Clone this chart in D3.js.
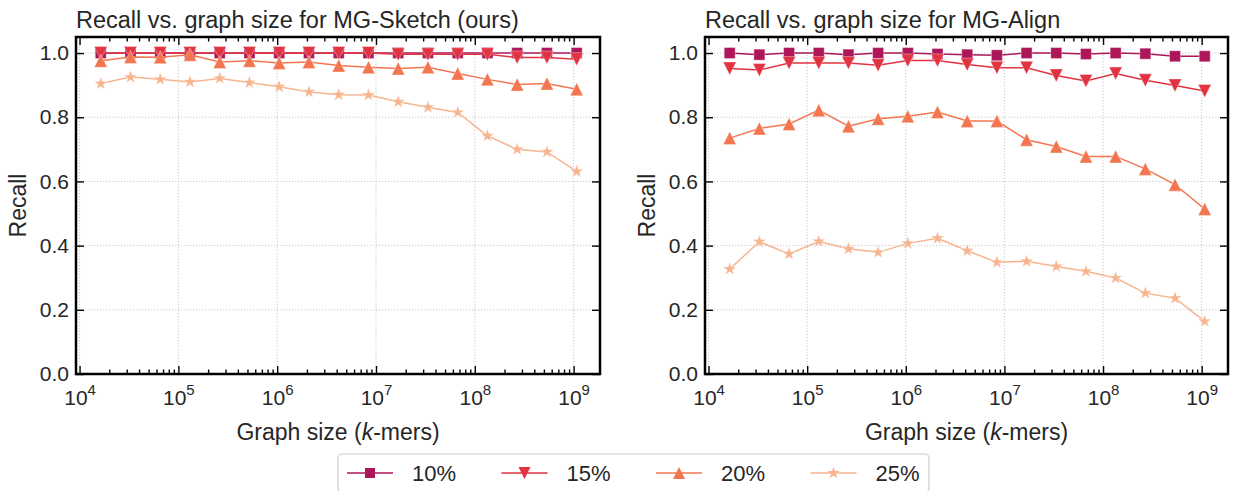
<!DOCTYPE html>
<html>
<head>
<meta charset="utf-8">
<script src="https://cdn.jsdelivr.net/npm/d3@7"></script>
<style>
  body { margin: 0; background: #fff; }
  svg { display: block; font-family: "Liberation Sans", Arial, sans-serif; }
  .grid line { stroke: #c8c8c8; stroke-width: 1; stroke-dasharray: 1.2,1.8; }
  .tick line { stroke: #000; stroke-width: 1.4; }
  .tick text { fill: #262626; }
</style>
</head>
<body>
<svg id="chart" width="1233" height="491"></svg>
<script>
// graph sizes (k-mers), one per measured point
var sizes = [16384, 32768, 65536, 131072, 262144, 524288, 1048576, 2097152, 4194304,
             8388608, 16777216, 33554432, 67108864, 134217728, 268435456, 536870912, 1073741824];

var labels = ["10%", "15%", "20%", "25%"];
var colors = ["#ad1759", "#e13342", "#f37651", "#f6b48f"];
var shapes = ["square", "tridown", "triup", "star"];

// MG-Sketch recall
var sketch10 = [1, 1, 1, 1, 1, 1, 1, 1, 1, 1, 1, 1, 1, 1, 1, 1, 1];
var sketch15 = [1, 1, 1, 1, 1, 1, 1, 1, 1, 1, 0.996, 0.996, 0.996, 0.996, 0.986, 0.986, 0.981];
var sketch20 = [0.976, 0.988, 0.987, 0.995, 0.972, 0.976, 0.969, 0.972, 0.961, 0.956, 0.952, 0.956, 0.936, 0.918, 0.902, 0.905, 0.887];
var sketch25 = [0.905, 0.925, 0.918, 0.910, 0.921, 0.908, 0.895, 0.879, 0.870, 0.869, 0.848, 0.831, 0.815, 0.742, 0.700, 0.692, 0.631];

// MG-Align recall
var align10 = [1.0, 0.995, 1.0, 1.0, 0.995, 1.0, 1.0, 0.997, 0.995, 0.993, 1.0, 1.0, 0.997, 1.0, 0.998, 0.99, 0.99];
var align15 = [0.952, 0.947, 0.969, 0.969, 0.969, 0.962, 0.977, 0.977, 0.964, 0.954, 0.954, 0.930, 0.913, 0.936, 0.915, 0.899, 0.882];
var align20 = [0.735, 0.765, 0.779, 0.822, 0.772, 0.795, 0.803, 0.816, 0.788, 0.788, 0.730, 0.709, 0.678, 0.678, 0.639, 0.590, 0.514];
var align25 = [0.327, 0.412, 0.374, 0.413, 0.390, 0.379, 0.407, 0.423, 0.384, 0.348, 0.351, 0.335, 0.320, 0.299, 0.252, 0.236, 0.164];

var xMajor = [1e4, 1e5, 1e6, 1e7, 1e8, 1e9];
var yMajor = [0, 0.2, 0.4, 0.6, 0.8, 1.0];

var panels = [
  {title: "Recall vs. graph size for MG-Sketch (ours)", left: 76, right: 600, series: [sketch10, sketch15, sketch20, sketch25]},
  {title: "Recall vs. graph size for MG-Align", left: 705, right: 1228, series: [align10, align15, align20, align25]}
];

var plotTop = 37, plotBottom = 374;
var svg = d3.select("#chart");

// matplotlib-like marker paths, r = half size
function markerPath(shape, r) {
  if (shape === "square") return "M" + (-r) + "," + (-r) + "h" + (2 * r) + "v" + (2 * r) + "h" + (-2 * r) + "Z";
  if (shape === "triup") return "M0," + (-r) + "L" + (-r) + "," + r + "L" + r + "," + r + "Z";
  if (shape === "tridown") return "M0," + r + "L" + (-r) + "," + (-r) + "L" + r + "," + (-r) + "Z";
  var p = [];
  for (var k = 0; k < 10; k++) {
    var rad = k % 2 === 0 ? r : r * 0.381966;
    var a = -Math.PI / 2 + k * Math.PI / 5;
    p.push([rad * Math.cos(a), rad * Math.sin(a)]);
  }
  return "M" + p.map(function (q) { return q[0].toFixed(2) + "," + q[1].toFixed(2) }).join("L") + "Z";
}
var markerR = {square: 5.5, tridown: 6.5, triup: 6.5, star: 7};

// minor ticks 2..9 per decade inside the domain
var xDomain = [Math.pow(10, 3.964), Math.pow(10, 9.267)];
var xMinor = [];
[1e3, 1e4, 1e5, 1e6, 1e7, 1e8, 1e9].forEach(function (d) {
  [2, 3, 4, 5, 6, 7, 8, 9].forEach(function (m) {
    var v = d * m;
    if (v > xDomain[0] && v < xDomain[1]) xMinor.push(v);
  })
})

panels.forEach(function (p) {
  var x = d3.scaleLog().domain(xDomain).range([p.left, p.right]);
  var y = d3.scaleLinear().domain([0, 1.05]).range([plotBottom, plotTop]);
  var w = p.right - p.left, h = plotBottom - plotTop;
  var g = svg.append("g");

  // grid
  var grid = g.append("g").attr("class", "grid");
  grid.selectAll(".gx").data(xMajor).enter().append("line")
    .attr("x1", function (d) { return x(d) }).attr("x2", function (d) { return x(d) })
    .attr("y1", plotTop).attr("y2", plotBottom);
  grid.selectAll(".gy").data(yMajor).enter().append("line")
    .attr("x1", p.left).attr("x2", p.right)
    .attr("y1", function (d) { return y(d) }).attr("y2", function (d) { return y(d) });

  // x axis bottom (labels 10^n)
  var xb = g.append("g").attr("transform", "translate(0," + plotBottom + ")")
    .call(d3.axisBottom(x).tickValues(xMajor).tickSizeInner(-8).tickSizeOuter(0).tickFormat(""));
  xb.select(".domain").remove();
  xb.selectAll(".tick").append("text")
    .attr("text-anchor", "middle").attr("y", 31).style("font-size", "21px")
    .each(function (d) {
      var t = d3.select(this);
      t.append("tspan").text("10");
      t.append("tspan").attr("dy", -10).style("font-size", "15px").text(Math.round(Math.log10(d)));
    });
  var xbm = g.append("g").attr("transform", "translate(0," + plotBottom + ")")
    .call(d3.axisBottom(x).tickValues(xMinor).tickSizeInner(-4.5).tickSizeOuter(0).tickFormat(""));
  xbm.select(".domain").remove();

  // x axis top, ticks only
  var xt = g.append("g").attr("transform", "translate(0," + plotTop + ")")
    .call(d3.axisTop(x).tickValues(xMajor).tickSizeInner(-8).tickSizeOuter(0).tickFormat(""));
  xt.select(".domain").remove();
  var xtm = g.append("g").attr("transform", "translate(0," + plotTop + ")")
    .call(d3.axisTop(x).tickValues(xMinor).tickSizeInner(-4.5).tickSizeOuter(0).tickFormat(""));
  xtm.select(".domain").remove();

  // y axes
  var yl = g.append("g").attr("transform", "translate(" + p.left + ",0)")
    .call(d3.axisLeft(y).tickValues(yMajor).tickSizeInner(-8).tickSizeOuter(0).tickPadding(7).tickFormat(d3.format(".1f")));
  yl.select(".domain").remove();
  yl.selectAll("text").style("font-size", "21px").attr("fill", "#262626");
  var yr = g.append("g").attr("transform", "translate(" + p.right + ",0)")
    .call(d3.axisRight(y).tickValues(yMajor).tickSizeInner(-8).tickSizeOuter(0).tickFormat(""));
  yr.select(".domain").remove();

  // series
  p.series.forEach(function (vals, i) {
    var pts = vals.map(function (v, j) { return [sizes[j], v] });
    g.append("path").datum(pts)
      .attr("fill", "none").attr("stroke", colors[i]).attr("stroke-width", 1.5)
      .attr("d", d3.line().x(function (d) { return x(d[0]) }).y(function (d) { return y(d[1]) }));
    g.selectAll(".m" + i).data(pts).enter().append("path")
      .attr("transform", function (d) { return "translate(" + x(d[0]) + "," + y(d[1]) + ")" })
      .attr("d", markerPath(shapes[i], markerR[shapes[i]]))
      .attr("fill", colors[i]).attr("stroke", "#fff").attr("stroke-opacity", 0.45).attr("stroke-width", 0.8);
  })

  // frame
  g.append("rect").attr("x", p.left).attr("y", plotTop).attr("width", w).attr("height", h)
    .attr("fill", "none").attr("stroke", "#000").attr("stroke-width", 2.5);

  // titles and labels
  g.append("text").attr("x", p.left).attr("y", 28).attr("fill", "#262626")
    .style("font-size", "23.5px").text(p.title);
  g.append("text").attr("transform", "translate(" + (p.left - 50) + "," + ((plotTop + plotBottom) / 2) + ")rotate(-90)")
    .attr("text-anchor", "middle").attr("fill", "#262626").style("font-size", "23px").text("Recall");
  var xl = g.append("text").attr("x", (p.left + p.right) / 2).attr("y", 440)
    .attr("text-anchor", "middle").attr("fill", "#262626").style("font-size", "23px");
  xl.append("tspan").text("Graph size (");
  xl.append("tspan").style("font-style", "italic").text("k");
  xl.append("tspan").text("-mers)");
})

// legend
var lg = svg.append("g");
lg.append("rect").attr("x", 338).attr("y", 454).attr("width", 591).attr("height", 38).attr("rx", 4)
  .attr("fill", "#fff").attr("stroke", "#cccccc").attr("stroke-width", 1.2);
labels.forEach(function (lab, i) {
  var x0 = 347 + i * 154.5, cy = 473;
  lg.append("line").attr("x1", x0).attr("x2", x0 + 46).attr("y1", cy).attr("y2", cy)
    .attr("stroke", colors[i]).attr("stroke-width", 1.5);
  lg.append("path").attr("transform", "translate(" + (x0 + 23) + "," + cy + ")")
    .attr("d", markerPath(shapes[i], markerR[shapes[i]] - 0.5)).attr("fill", colors[i]);
  lg.append("text").attr("x", x0 + 65).attr("y", cy).attr("dy", "0.36em")
    .attr("fill", "#262626").style("font-size", "22px").text(lab);
})
</script>
</body>
</html>
